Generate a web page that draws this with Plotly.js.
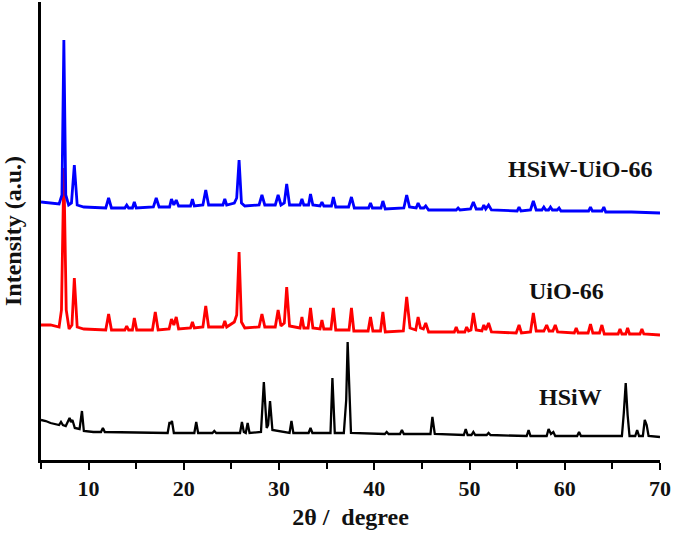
<!DOCTYPE html>
<html>
<head>
<meta charset="utf-8">
<script src="https://cdn.plot.ly/plotly-3.0.1.min.js"></script>
<style>
  html, body { margin: 0; padding: 0; background: #fff; }
  #chart { width: 673px; height: 533px; }
</style>
</head>
<body>
<div id="chart"></div>
<script>
// XRD patterns, stacked (arbitrary units incl. offset)
var hsiwUioX = [5.0, 6.0, 6.9, 7.2, 7.4, 7.6, 7.9, 8.2, 8.5, 8.8, 9.5, 11.8, 12.1, 12.4, 13.8, 14.0, 14.2, 14.6, 14.8, 15.0,
  16.8, 17.1, 17.4, 18.5, 18.7, 18.95, 19.2, 19.45, 20.7, 20.9, 21.1, 22.0, 22.3, 22.6, 24.1, 24.3, 24.5, 25.3, 25.55, 25.8,
  26.05, 26.4, 27.9, 28.2, 28.5, 29.6, 29.9, 30.2, 30.55, 30.8, 31.1, 32.2, 32.4, 32.6, 33.1, 33.3, 33.55, 34.3, 34.5, 34.7,
  35.5, 35.7, 35.95, 37.3, 37.6, 37.9, 39.4, 39.6, 39.8, 40.7, 40.9, 41.15, 43.1, 43.4, 43.7, 44.4, 44.6, 44.85, 45.2, 45.4,
  45.7, 48.6, 48.8, 49.0, 50.1, 50.4, 50.7, 51.3, 51.5, 51.7, 52.0, 52.3, 55.0, 55.2, 55.4, 56.4, 56.7, 57.0, 57.6, 57.8,
  58.0, 58.3, 58.5, 58.7, 59.2, 59.4, 59.6, 62.5, 62.7, 62.9, 63.9, 64.1, 64.3, 67.0, 70.0];
var hsiwUioY = [258, 257, 256, 265, 420, 265, 255, 257, 295, 255, 253, 252, 262, 252, 252, 255, 252, 252, 258, 252,
  253, 262, 253, 253, 261, 255, 260, 254, 254, 261, 254, 255, 270, 255, 255, 261, 255, 257, 262, 300,
  257, 254, 255, 265, 255, 255, 265, 255, 257, 276, 255, 255, 261, 255, 255, 266, 255, 254, 258, 254,
  254, 263, 253, 253, 263, 252, 252, 257, 252, 252, 259, 251, 252, 265, 253, 252, 257, 252, 252, 254,
  250, 250, 252, 250, 251, 258, 251, 251, 255, 251, 255, 250, 249, 253, 249, 250, 259, 250, 250, 253,
  250, 250, 253, 250, 250, 252, 249, 249, 253, 249, 249, 253, 248, 248, 247];

var uioX = [5.0, 6.0, 6.9, 7.15, 7.4, 7.65, 7.95, 8.25, 8.5, 8.8, 9.5, 11.8, 12.1, 12.4, 13.8, 14.0, 14.2, 14.6, 14.8, 15.05,
  16.7, 17.0, 17.3, 18.45, 18.7, 18.95, 19.2, 19.45, 20.7, 20.9, 21.1, 22.0, 22.3, 22.6, 24.1, 24.3, 24.5, 25.3, 25.55, 25.8,
  26.05, 26.4, 27.9, 28.2, 28.5, 29.6, 29.9, 30.2, 30.55, 30.8, 31.1, 32.2, 32.4, 32.6, 33.05, 33.3, 33.55, 34.3, 34.5, 34.7,
  35.45, 35.7, 35.95, 37.35, 37.6, 37.85, 39.35, 39.6, 39.85, 40.65, 40.9, 41.15, 43.05, 43.4, 43.75, 44.35, 44.6, 44.85, 45.15, 45.4,
  45.7, 48.4, 48.6, 48.8, 49.5, 49.7, 49.9, 50.15, 50.4, 50.7, 51.3, 51.5, 51.7, 52.0, 52.3, 54.9, 55.2, 55.45, 56.4, 56.7,
  57.0, 57.8, 58.1, 58.35, 58.75, 59.0, 59.25, 61.0, 61.2, 61.4, 62.45, 62.7, 62.95, 63.65, 63.9, 64.15, 65.6, 65.8, 66.0, 66.4,
  66.6, 66.8, 67.9, 68.1, 68.3, 70.0];
var uioY = [135, 135, 133, 150, 292, 150, 131, 135, 182, 133, 131, 130, 146, 130, 130, 134, 130, 130, 142, 130,
  130, 148, 130, 131, 141, 135, 143, 131, 132, 138, 132, 133, 154, 133, 133, 139, 133, 138, 145, 208,
  138, 132, 133, 146, 133, 133, 150, 134, 137, 173, 134, 132, 143, 132, 132, 152, 132, 131, 140, 131,
  131, 152, 130, 130, 152, 129, 129, 143, 129, 129, 148, 128, 129, 163, 132, 130, 143, 132, 131, 137,
  128, 128, 133, 128, 128, 133, 129, 130, 147, 130, 129, 135, 130, 137, 128, 127, 135, 127, 128, 147,
  129, 129, 135, 129, 129, 135, 128, 127, 132, 127, 127, 136, 127, 127, 135, 126, 126, 131, 126, 126,
  132, 126, 126, 131, 126, 125];

var hsiwX = [5.0, 5.5, 6.0, 6.5, 6.9, 7.1, 7.3, 7.6, 7.85, 8.0, 8.15, 8.3, 8.55, 9.05, 9.3, 9.5, 10.5, 11.3, 11.5, 11.7,
  18.3, 18.5, 18.6, 18.75, 18.95, 21.1, 21.3, 21.5, 23.0, 23.2, 23.4, 25.9, 26.1, 26.3, 26.5, 26.7, 26.9, 28.1, 28.4, 28.7,
  28.85, 29.05, 29.3, 31.1, 31.3, 31.5, 33.1, 33.3, 33.5, 35.4, 35.6, 35.85, 36.8, 36.95, 37.05, 37.2, 37.35, 37.55, 41.1, 41.3,
  41.5, 42.7, 42.9, 43.1, 45.9, 46.1, 46.35, 49.4, 49.6, 49.8, 50.2, 50.4, 50.6, 51.8, 52.0, 52.2, 56.0, 56.2, 56.4, 58.1,
  58.3, 58.55, 58.8, 59.0, 61.3, 61.5, 61.7, 66.0, 66.2, 66.4, 66.6, 66.8, 67.4, 67.6, 67.8, 68.2, 68.4, 68.6, 68.8, 70.0];
var hsiwY = [40, 39, 37, 36, 35, 38, 35, 34, 40, 42, 38, 40, 32, 31, 49, 29, 28, 28, 32, 28,
  27, 38, 36, 39, 27, 27, 38, 27, 27, 29, 27, 27, 38, 28, 27, 37, 27, 28, 78, 32,
  35, 59, 30, 27, 39, 27, 27, 32, 27, 27, 82, 27, 27, 53, 60, 118, 72, 27, 26, 28,
  26, 26, 30, 26, 26, 43, 26, 25, 31, 25, 25, 28, 25, 25, 27, 25, 24, 30, 24, 24,
  31, 26, 28, 24, 24, 28, 24, 24, 47, 77, 45, 24, 24, 30, 24, 24, 40, 35, 24, 23];

var seriesNames = ['HSiW', 'UiO-66', 'HSiW-UiO-66'];
var labelX = [60.6, 60.2, 61.6];
var labelY = [63, 169, 291];
var xTicks = [10, 20, 30, 40, 50, 60, 70];

var serif = 'Liberation Serif, Times New Roman, serif';

var data = [
  {x: hsiwX, y: hsiwY, name: seriesNames[0], type: 'scatter', mode: 'lines', line: {color: '#000000', width: 2.3}},
  {x: uioX, y: uioY, name: seriesNames[1], type: 'scatter', mode: 'lines', line: {color: '#ff0000', width: 2.8}},
  {x: hsiwUioX, y: hsiwUioY, name: seriesNames[2], type: 'scatter', mode: 'lines', line: {color: '#0000ff', width: 2.8}}
];

var annotations = [];
for (var i = 0; i < seriesNames.length; i++) {
  annotations.push({
    x: labelX[i], y: labelY[i], xref: 'x', yref: 'y', text: '<b>' + seriesNames[i] + '</b>',
    showarrow: false, font: {family: serif, size: 24, color: '#111'}
  });
}

var layout = {
  width: 673,
  height: 533,
  margin: {l: 41, r: 13, t: 2, b: 73},
  paper_bgcolor: '#fff',
  plot_bgcolor: '#fff',
  showlegend: false,
  xaxis: {
    range: [5, 70],
    tickvals: xTicks,
    ticktext: xTicks.map(function (v) { return '<b>' + v + '</b>'; }),
    ticks: 'outside', ticklen: 7, tickwidth: 2, tickcolor: '#000',
    minor: {dtick: 5, tick0: 5, ticks: 'outside', ticklen: 6, tickwidth: 2, tickcolor: '#000'},
    showline: true, linewidth: 3, linecolor: '#000',
    showgrid: false, zeroline: false,
    tickfont: {family: serif, size: 22, color: '#111'},
    title: {text: '<b>2\u03b8 /\u00a0 degree</b>', font: {family: serif, size: 24, color: '#111'}, standoff: 8}
  },
  yaxis: {
    range: [0, 458],
    showticklabels: false, ticks: '',
    showline: true, linewidth: 3, linecolor: '#000',
    showgrid: false, zeroline: false,
    title: {text: '<b>Intensity (a.u.)</b>', font: {family: serif, size: 24, color: '#111'}, standoff: 14}
  },
  annotations: annotations
};

Plotly.newPlot('chart', data, layout, {displayModeBar: false, staticPlot: true});
</script>
</body>
</html>
